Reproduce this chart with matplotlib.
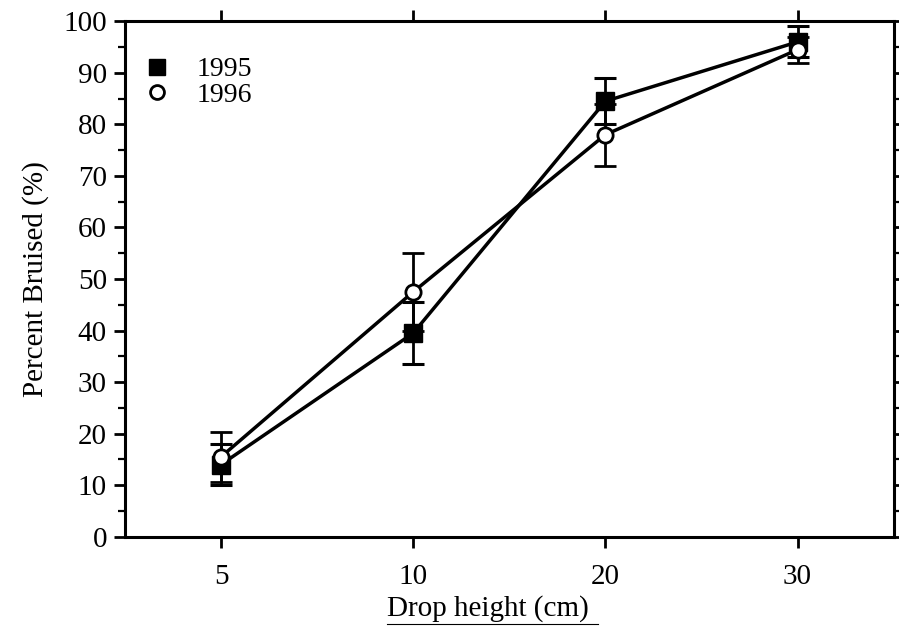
import matplotlib.pyplot as plt
from matplotlib.lines import Line2D

# drop heights (categorical, evenly spaced)
heights = ["5", "10", "20", "30"]
bruised_1995 = [14, 39.5, 84.5, 96]
err_1995 = [4, 6, 4.5, 3]
bruised_1996 = [15.5, 47.5, 78, 94.5]
err_1996 = [4.8, 7.5, 6, 2.5]

plt.rcParams['font.family'] = ['Liberation Serif', 'DejaVu Serif']

fig = plt.figure(figsize=(8.99, 6.27), dpi=100)
ax = fig.add_axes([0.139, 0.144, 0.855, 0.822])

x = list(range(len(heights)))

ax.errorbar(x, bruised_1995, yerr=err_1995, color='black', lw=2.5,
            marker='s', ms=13, mfc='black', mec='black',
            elinewidth=2, capsize=8, capthick=2.2, zorder=3)
ax.errorbar(x, bruised_1996, yerr=err_1996, color='black', lw=2.5,
            marker='o', ms=11, mfc='white', mec='black', mew=2,
            elinewidth=2, capsize=8, capthick=2.2, zorder=4)

ax.set_xlim(-0.5, 3.5)
ax.set_ylim(0, 100)
ax.set_xticks(x)
ax.set_xticklabels(heights)
ax.set_yticks(range(0, 101, 10))
ax.set_yticks(range(5, 100, 10), minor=True)

ax.tick_params(axis='both', which='major', direction='out', length=8, width=2,
               labelsize=21, pad=5)
ax.tick_params(axis='x', pad=12)
ax.tick_params(axis='y', which='minor', direction='out', length=5, width=1.6)
ax.tick_params(axis='x', top=True)
ax.tick_params(axis='y', right=True, which='both')

for s in ax.spines.values():
    s.set_linewidth(2.2)

ax.set_ylabel('Percent Bruised (%)', fontsize=21, labelpad=10)
xl = ax.set_xlabel('Drop height (cm)', fontsize=21)
ax.xaxis.set_label_coords(0.472, -0.114)

handles = [
    Line2D([], [], ls='none', marker='s', ms=12, mfc='black', mec='black'),
    Line2D([], [], ls='none', marker='o', ms=10, mfc='white', mec='black', mew=2),
]
ax.legend(handles, ['1995', '1996'], loc='upper left', frameon=False, fontsize=20,
          handlelength=1.0, handletextpad=0.9, labelspacing=0.0,
          bbox_to_anchor=(-0.012, 0.985), borderaxespad=0.6)

# underline under the x-axis label, as in the scanned figure
fig.canvas.draw()
bb = xl.get_window_extent().transformed(fig.transFigure.inverted())
fig.add_artist(Line2D([bb.x0, bb.x1 + 0.01], [bb.y0 - 0.003, bb.y0 - 0.003],
                      transform=fig.transFigure, color='black', lw=0.8))

fig.savefig('out.png', dpi=100)
